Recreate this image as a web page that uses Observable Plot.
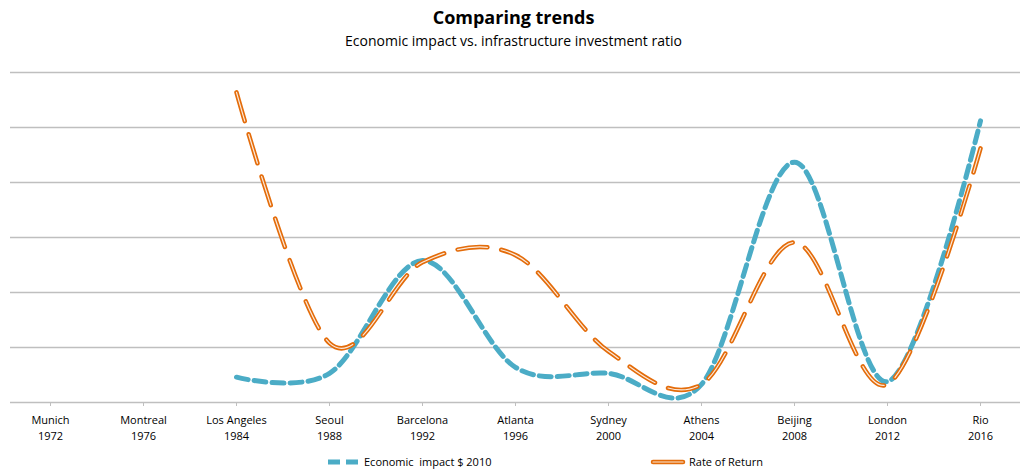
<!DOCTYPE html>
<html>
<head>
<meta charset="utf-8">
<script src="https://cdn.jsdelivr.net/npm/d3@7"></script>
<script src="https://cdn.jsdelivr.net/npm/@observablehq/plot@0.6"></script>
<style>
  body { margin: 0; background: #fff; font-family: "Open Sans", "Noto Sans", sans-serif; }
  #wrap { position: relative; width: 1027px; height: 470px; overflow: hidden; }
  #title { position: absolute; top: 5px; left: 0; width: 1027px; text-align: center;
           font-weight: 700; font-size: 18px; line-height: 24px; color: #000; }
  #subtitle { position: absolute; top: 31px; left: 0; width: 1027px; text-align: center;
              font-size: 14px; line-height: 20px; color: #000; }
  #chart { position: absolute; top: 56px; left: 0; }
  .legend-item { position: absolute; top: 454px; height: 15px; display: flex;
                 align-items: center; font-size: 11px; line-height: 15px; color: #000; }
  .legend-item span { white-space: pre; }
  .legend-item svg { margin-right: 3px; flex: none; }
</style>
</head>
<body>
<div id="wrap">
  <div id="title">Comparing trends</div>
  <div id="subtitle">Economic impact vs. infrastructure investment ratio</div>
  <div id="chart"></div>
  <div class="legend-item" style="left:327px"><svg width="34" height="10"><line x1="1" y1="5" x2="33" y2="5" stroke="#4BACC6" stroke-width="5" stroke-dasharray="12,6"/></svg><span>Economic  impact $ 2010</span></div>
  <div class="legend-item" style="left:650px"><svg width="36" height="10"><line x1="3" y1="5" x2="33" y2="5" stroke="#E46C0A" stroke-width="4.5" stroke-linecap="round"/><line x1="3" y1="5" x2="33" y2="5" stroke="#fff" stroke-width="1.2" stroke-linecap="round" stroke-opacity="0.85"/></svg><span>Rate of Return</span></div>
</div>
<script>
// Host cities and games years
const cities = ["Munich", "Montreal", "Los Angeles", "Seoul", "Barcelona", "Atlanta",
                "Sydney", "Athens", "Beijing", "London", "Rio"];
const years = ["1972", "1976", "1984", "1988", "1992", "1996", "2000", "2004", "2008", "2012", "2016"];

// Series values (relative index units); null where no value is available
const economicImpact = [null, null, 0.46, 0.53, 2.58, 0.64, 0.53, 0.33, 4.37, 0.38, 5.12];
const rateOfReturn   = [null, null, 5.64, 1.08, 2.55, 2.68, 0.93, 0.33, 2.91, 0.33, 4.62];

// Gridline levels
const gridLevels = [1, 2, 3, 4, 5, 6];

const rows = cities.map((city, i) => ({
  city,
  year: years[i],
  impact: economicImpact[i],
  ret: rateOfReturn[i]
}));
const yearOf = new Map(cities.map((c, i) => [c, years[i]]));

const font = '"Open Sans", "Noto Sans", sans-serif';
const retDash = "30,14";

const chart = Plot.plot({
  width: 1027,
  height: 390,
  marginTop: 16,
  marginBottom: 44,
  marginLeft: 10,
  marginRight: 7,
  style: { fontFamily: font, fontSize: "11px", color: "#000", background: "transparent" },
  x: { type: "point", domain: cities, padding: 0.42, axis: null, label: null },
  y: { domain: [0, 6], axis: null },
  marks: [
    Plot.ruleY(gridLevels, { stroke: "#bfbfbf", strokeWidth: 1.3 }),
    Plot.ruleY([0], { stroke: "#bfbfbf", strokeWidth: 1.3 }),
    Plot.axisX({
      label: null,
      tickSize: 4,
      tickPadding: 6,
      stroke: "#bfbfbf",
      fill: "#000",
      fontSize: 11,
      lineHeight: 1.45,
      tickFormat: d => `${d}\n${yearOf.get(d)}`
    }),
    Plot.line(rows, {
      x: "city", y: "impact", curve: "cardinal",
      stroke: "#4BACC6", strokeWidth: 5, strokeDasharray: "12,6"
    }),
    Plot.line(rows, {
      x: "city", y: "ret", curve: "cardinal",
      stroke: "#E46C0A", strokeWidth: 4.5, strokeDasharray: retDash, strokeLinecap: "round"
    }),
    Plot.line(rows, {
      x: "city", y: "ret", curve: "cardinal",
      stroke: "#fff", strokeWidth: 1.2, strokeOpacity: 0.85,
      strokeDasharray: retDash, strokeLinecap: "round"
    })
  ]
});

document.getElementById("chart").appendChild(chart);
</script>
</body>
</html>
